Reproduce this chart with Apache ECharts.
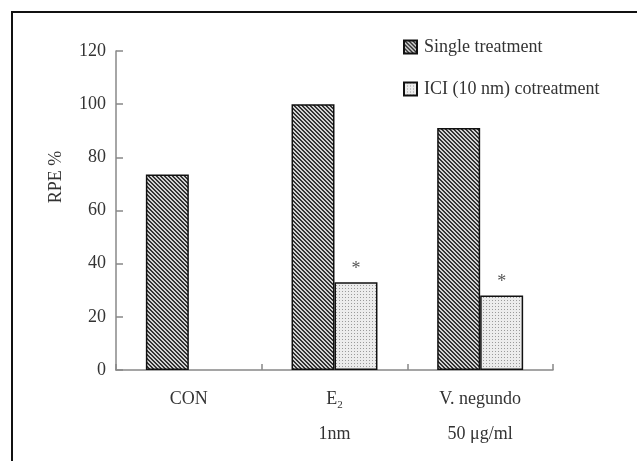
<!DOCTYPE html>
<html>
<head>
<meta charset="utf-8">
<script src="https://cdn.jsdelivr.net/npm/echarts@6/dist/echarts.min.js"></script>
<style>html,body{margin:0;padding:0;background:#fff;}#c{width:637px;height:461px;}</style>
</head>
<body>
<div id="c"></div>
<script>
var categories = ['CON', 'E2', 'V. negundo'];
var categorySubLabels = ['', '1nm', '50 \u03bcg/ml'];
var singleTreatment = [73.5, 100, 91];
var iciCotreatment = [null, 33, 28];
var seriesNames = ['Single treatment', 'ICI (10 nm) cotreatment'];
var yTicks = { min: 0, max: 120, interval: 20 };

function hatchPattern() {
  var c = document.createElement('canvas');
  c.width = 4; c.height = 4;
  var ctx = c.getContext('2d');
  ctx.fillStyle = '#d2d2d2';
  ctx.fillRect(0, 0, 4, 4);
  ctx.fillStyle = '#333333';
  for (var x = 0; x < 4; x++) for (var y = 0; y < 4; y++) {
    var d = ((x - y) % 4 + 4) % 4;
    if (d === 0 || d === 1) ctx.fillRect(x, y, 1, 1);
  }
  return c;
}
function dotPattern() {
  var c = document.createElement('canvas');
  c.width = 3; c.height = 3;
  var ctx = c.getContext('2d');
  ctx.fillStyle = '#ececec';
  ctx.fillRect(0, 0, 3, 3);
  ctx.fillStyle = '#9a9a9a';
  ctx.fillRect(0, 0, 1, 1);
  return c;
}

var font = '"Liberation Serif", "DejaVu Serif", serif';
var chart = echarts.init(document.getElementById('c'));
chart.setOption({
  animation: false,
  backgroundColor: '#fff',
  textStyle: { fontFamily: font },
  grid: { left: 116, right: 84, top: 51, bottom: 91 },
  graphic: [
    { type: 'rect', shape: { x: 12, y: 12, width: 640, height: 470 }, style: { fill: 'none', stroke: '#111', lineWidth: 2 }, silent: true },
    { type: 'text', x: 56, y: 177, rotation: Math.PI / 2, style: { text: 'RPE %', fontFamily: font, fontSize: 18, fill: '#333', align: 'center', verticalAlign: 'middle' } }
  ],
  legend: {
    orient: 'vertical', left: 398, top: 33, itemGap: 24, itemWidth: 13, itemHeight: 13, icon: 'rect',
    textStyle: { fontFamily: font, fontSize: 18, color: '#333', padding: [0, 0, 0, 2] },
    data: seriesNames
  },
  xAxis: {
    type: 'category', data: categories,
    axisLine: { lineStyle: { color: '#888', width: 1.5 } },
    axisTick: { show: true, inside: true, length: 6, lineStyle: { color: '#888', width: 1.5 } },
    axisLabel: {
      margin: 12, interval: 0,
      formatter: function (v, i) {
        var top = v === 'E2' ? '{n|E}{s|2}' : '{n|' + v + '}';
        return categorySubLabels[i] ? top + '\n{n|' + categorySubLabels[i] + '}' : top;
      },
      rich: {
        n: { fontFamily: font, fontSize: 18, color: '#333', lineHeight: 35 },
        s: { fontFamily: font, fontSize: 11, color: '#333', lineHeight: 35, padding: [12, 0, 0, 0] }
      }
    }
  },
  yAxis: {
    type: 'value', min: yTicks.min, max: yTicks.max, interval: yTicks.interval,
    splitLine: { show: false },
    axisLine: { show: true, lineStyle: { color: '#888', width: 1.5 } },
    axisTick: { show: true, inside: true, length: 7, lineStyle: { color: '#888', width: 1.5 } },
    axisLabel: { margin: 10, fontFamily: font, fontSize: 18, color: '#333' }
  },
  series: [
    {
      name: seriesNames[0], type: 'bar', data: singleTreatment,
      barGap: '0%', barCategoryGap: '41%',
      itemStyle: { color: { image: hatchPattern(), repeat: 'repeat' }, borderColor: '#111', borderWidth: 1.5 }
    },
    {
      name: seriesNames[1], type: 'bar', data: iciCotreatment,
      itemStyle: { color: { image: dotPattern(), repeat: 'repeat' }, borderColor: '#111', borderWidth: 1.5 },
      label: { show: true, position: 'top', distance: 4, formatter: '*', fontFamily: font, fontSize: 18, color: '#555' }
    }
  ]
});
</script>
</body>
</html>
